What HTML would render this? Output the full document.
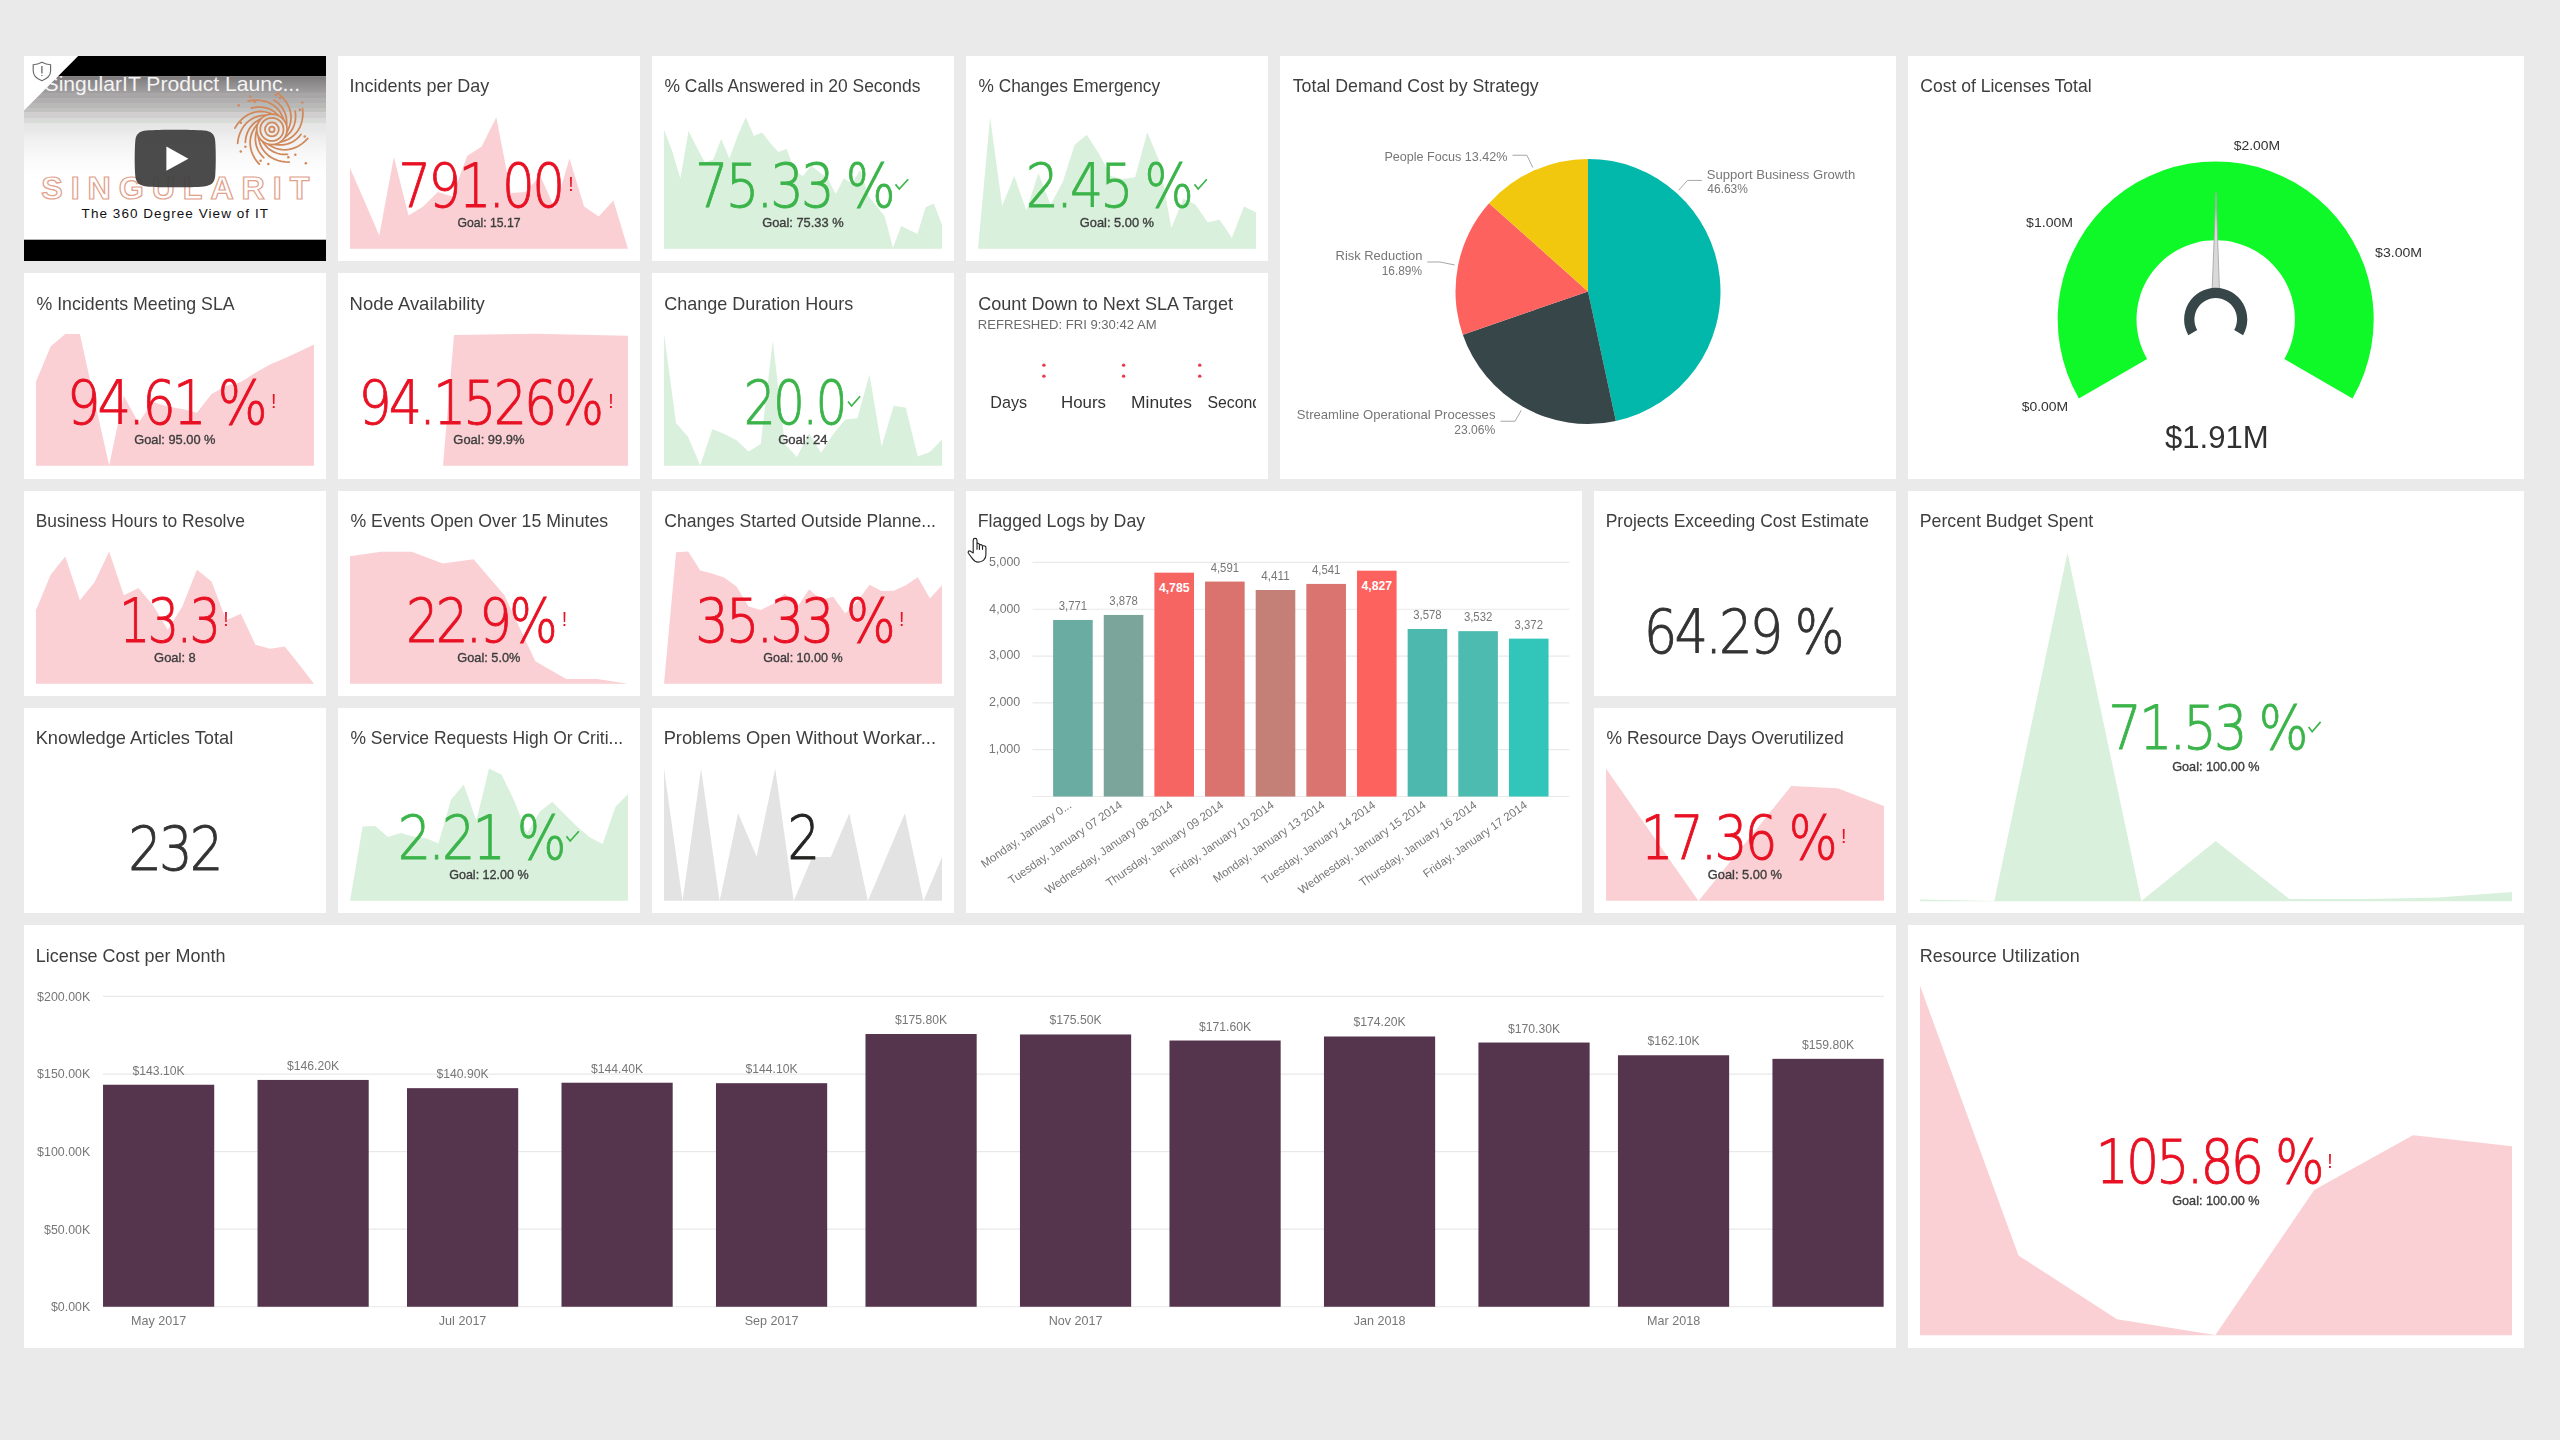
<!DOCTYPE html>
<html lang="en"><head><meta charset="utf-8"><title>IT Dashboard</title>
<style>
html,body{margin:0;padding:0}
body{width:2560px;height:1440px;background:#EAEAEA;position:relative;overflow:hidden;font-family:'Liberation Sans',sans-serif}
.tile{position:absolute;background:#fff;overflow:hidden}
.tile svg{display:block;position:absolute;left:0;top:0;will-change:opacity}
svg text{font-family:'Liberation Sans',sans-serif}
svg text.big{font-family:'DejaVu Sans Light','DejaVu Sans','Liberation Sans',sans-serif;font-weight:200}
</style></head><body>

<div class="tile video" style="left:24px;top:56px;width:302px;height:205.33px">
<svg width="302" height="205.33" viewBox="24 56 302 205.33">
<defs><linearGradient id="vg" gradientUnits="userSpaceOnUse" x1="0" y1="76" x2="0" y2="176">
<stop offset="0" stop-color="#7c787b"/><stop offset="0.08" stop-color="#8f8c8e"/><stop offset="0.165" stop-color="#a19e9f"/>
<stop offset="0.17" stop-color="#a9a6a7"/><stop offset="0.22" stop-color="#a9a6a7"/><stop offset="0.225" stop-color="#b1afaf"/>
<stop offset="0.27" stop-color="#b1afaf"/><stop offset="0.275" stop-color="#b8b8b7"/><stop offset="0.32" stop-color="#b8b8b7"/>
<stop offset="0.325" stop-color="#c1c1c0"/><stop offset="0.36" stop-color="#c1c1c0"/><stop offset="0.365" stop-color="#d0cece"/>
<stop offset="0.415" stop-color="#d0cece"/><stop offset="0.42" stop-color="#d8dbd8"/><stop offset="0.465" stop-color="#d8dbd8"/>
<stop offset="0.47" stop-color="#e5e5e5"/><stop offset="0.54" stop-color="#e8e8e8"/><stop offset="0.62" stop-color="#efefef"/>
<stop offset="0.8" stop-color="#f9f9f9"/><stop offset="1" stop-color="#ffffff"/></linearGradient></defs>
<rect x="24" y="56" width="302" height="205.33" fill="#000"/>
<rect x="24" y="76.1" width="302" height="163.6" fill="#fff"/>
<rect x="24" y="76.1" width="302" height="110" fill="url(#vg)"/>
<text x="44.6" y="90.8" font-size="20.3" fill="#f4f4f4" textLength="255.5" lengthAdjust="spacingAndGlyphs">SingularIT Product Launc...</text>
<polygon points="24,56 78.2,56 24,110.4" fill="#fff"/>
<path d="M41.9,62.2 c-3,1.6 -5.6,2.3 -8.7,2.5 v6 c0,4.6 3.2,8 8.7,10 c5.5,-2 8.7,-5.4 8.7,-10 v-6 c-3.1,-0.2 -5.7,-0.9 -8.7,-2.5 Z" fill="none" stroke="#6a6a6a" stroke-width="1.15"/>
<path d="M41.9,66 v7.4 M41.9,75 v1.1" stroke="#6a6a6a" stroke-width="1.3" fill="none"/>
<g fill="none" stroke="#D0885A" stroke-width="1.75" stroke-linecap="round"><circle cx="271.9" cy="129.4" r="2.7"/><circle cx="271.9" cy="129.4" r="6.9"/><circle cx="271.9" cy="129.4" r="11.6"/><circle cx="271.9" cy="129.4" r="15.2"/><polyline points="271.9,113.8 267.8,112.51 264.42,111.75 261.07,111.46 257.72,111.63 254.37,112.26 251.08,113.33 247.89,114.83 244.85,116.74 241.99,119.05 239.36,121.74 236.99,124.77 234.92,128.11"/><polyline points="278.25,115.15 275.8,113.1 273.85,111.59 271.89,110.33 269.84,109.27 267.72,108.42 265.52,107.77 263.25,107.32 260.93,107.08 258.57,107.05 256.19,107.22 253.79,107.6 251.41,108.18"/><polyline points="283.49,118.96 281.71,115.05 280.01,112.04 277.99,109.35 275.61,106.97 272.91,104.9 269.92,103.17 266.67,101.81 263.21,100.83 259.57,100.25 255.82,100.09 251.98,100.36 248.12,101.06"/><polyline points="286.74,124.58 286.62,121.39 286.44,118.94 286.07,116.63 285.48,114.4 284.69,112.26 283.7,110.19 282.52,108.2 281.15,106.32 279.59,104.54 277.87,102.88 275.99,101.35 273.96,99.97"/><polyline points="287.41,131.03 289.13,127.09 290.23,123.81 290.87,120.51 291.05,117.15 290.78,113.76 290.06,110.38 288.9,107.05 287.32,103.82 285.32,100.73 282.92,97.84 280.16,95.16 277.05,92.76"/><polyline points="285.41,137.2 287.7,134.98 289.41,133.21 290.87,131.38 292.13,129.46 293.2,127.44 294.08,125.32 294.76,123.11 295.24,120.83 295.52,118.48 295.6,116.09 295.48,113.67 295.15,111.24"/><polyline points="281.07,142.02 285.15,140.66 288.32,139.28 291.2,137.55 293.82,135.44 296.16,132.97 298.19,130.17 299.89,127.08 301.23,123.74 302.18,120.19 302.73,116.47 302.87,112.63 302.57,108.71"/><polyline points="275.14,144.66 278.33,144.88 280.79,144.96 283.12,144.82 285.39,144.48 287.61,143.92 289.77,143.15 291.87,142.18 293.89,141.01 295.82,139.65 297.65,138.11 299.36,136.4 300.95,134.52"/><polyline points="268.66,144.66 272.4,146.78 275.54,148.22 278.76,149.2 282.08,149.73 285.48,149.81 288.92,149.45 292.35,148.65 295.73,147.41 299.01,145.74 302.14,143.66 305.08,141.19 307.8,138.35"/><polyline points="262.73,142.02 264.7,144.53 266.29,146.41 267.95,148.06 269.73,149.52 271.63,150.79 273.64,151.88 275.77,152.79 277.99,153.51 280.29,154.04 282.66,154.36 285.08,154.49 287.53,154.42"/><polyline points="258.39,137.2 259.32,141.4 260.35,144.7 261.78,147.74 263.61,150.57 265.82,153.15 268.39,155.46 271.28,157.48 274.46,159.16 277.9,160.48 281.54,161.41 285.34,161.95 289.27,162.07"/><polyline points="256.39,131.03 255.84,134.17 255.5,136.61 255.39,138.95 255.5,141.24 255.82,143.51 256.36,145.74 257.11,147.93 258.06,150.06 259.2,152.12 260.54,154.1 262.07,155.98 263.77,157.76"/><polyline points="257.06,124.58 254.57,128.08 252.8,131.06 251.5,134.15 250.62,137.4 250.18,140.77 250.18,144.23 250.62,147.73 251.5,151.22 252.82,154.65 254.56,157.98 256.71,161.17 259.25,164.17"/><polyline points="260.31,118.96 257.6,120.66 255.57,122.04 253.75,123.52 252.12,125.13 250.66,126.89 249.36,128.78 248.23,130.8 247.29,132.93 246.52,135.17 245.95,137.49 245.57,139.88 245.39,142.33"/><polyline points="265.55,115.15 261.28,115.64 257.89,116.32 254.72,117.42 251.72,118.94 248.92,120.87 246.35,123.18 244.04,125.85 242.04,128.84 240.37,132.12 239.05,135.64 238.12,139.37 237.59,143.26"/></g><circle cx="238.7" cy="105.2" r="1.25" fill="#D0885A"/><circle cx="250.2" cy="96.6" r="1.25" fill="#D0885A"/><circle cx="254.6" cy="101.7" r="1.25" fill="#D0885A"/><circle cx="275.7" cy="94.9" r="1.25" fill="#D0885A"/><circle cx="280.0" cy="98.1" r="1.25" fill="#D0885A"/><circle cx="302.2" cy="102.6" r="1.25" fill="#D0885A"/><circle cx="299.9" cy="109.8" r="1.25" fill="#D0885A"/><circle cx="240.8" cy="122.8" r="1.25" fill="#D0885A"/><circle cx="245.4" cy="146.8" r="1.25" fill="#D0885A"/><circle cx="240.8" cy="151.4" r="1.25" fill="#D0885A"/><circle cx="260.6" cy="160.8" r="1.25" fill="#D0885A"/><circle cx="268.3" cy="164.0" r="1.25" fill="#D0885A"/><circle cx="288.3" cy="157.3" r="1.25" fill="#D0885A"/><circle cx="295.3" cy="154.7" r="1.25" fill="#D0885A"/><circle cx="304.7" cy="136.6" r="1.25" fill="#D0885A"/><circle cx="305.8" cy="163.2" r="1.25" fill="#D0885A"/>
<text x="41.3" y="199.3" font-size="32.2" font-weight="bold" fill="#ffffff" fill-opacity="0.6" stroke="#E2A18B" stroke-width="1.25" textLength="268" lengthAdjust="spacing">SINGULARIT</text>
<text x="81.6" y="218.2" font-size="13.5" fill="#111111" textLength="186.4" lengthAdjust="spacing">The 360 Degree View of IT</text>
<path d="M146.5,130.6 C160,129.6 190,129.6 204,130.6 C211.5,131.2 214.6,134.2 215.2,141 C216,150 216,167 215.2,176 C214.6,182.6 211.5,185.6 204,186.4 C190,187.6 160,187.6 146.5,186.4 C139,185.6 135.9,182.6 135.3,176 C134.5,167 134.5,150 135.3,141 C135.9,134.2 139,131.2 146.5,130.6 Z" fill="#3d3d3d" fill-opacity="0.93"/>
<polygon points="166.4,146.6 188.4,158.7 166.4,170.8" fill="#fff"/>
</svg></div>
<div class="tile" style="left:338px;top:56px;width:302px;height:205.33px">
<svg width="302" height="205.33" viewBox="338 56 302 205.33">
<polygon points="350,248.83 350,167.88 364.63,201.62 379.26,235.38 393.89,157 408.53,215.38 423.16,206.62 437.79,192 452.42,196.62 467.05,156 481.68,146.62 496.32,117.25 510.95,192.88 525.58,192 540.21,175.75 554.84,208.5 569.47,158.5 584.11,206.62 598.74,216.62 613.37,200.38 628,248.75 628,248.83" fill="#FAD0D4"/>
<text x="349.48" y="92" font-size="18" fill="#3e3e3e" textLength="139.85" lengthAdjust="spacingAndGlyphs">Incidents per Day</text>
<text x="398.36" y="206.6" font-size="61" fill="#E81123" textLength="163.9" lengthAdjust="spacingAndGlyphs" letter-spacing="-3.35" class="big" stroke="#E81123" stroke-width="0.9">791.00</text>
<text x="570.9" y="191.1" font-size="19.5" fill="#E81123" text-anchor="middle">!</text>
<text x="457.44" y="227.2" font-size="12.7" fill="#3d3d3d" textLength="63.13" lengthAdjust="spacingAndGlyphs" class="goal" stroke="#3d3d3d" stroke-width="0.35">Goal: 15.17</text>
</svg></div>
<div class="tile" style="left:652px;top:56px;width:302px;height:205.33px">
<svg width="302" height="205.33" viewBox="652 56 302 205.33">
<polygon points="664,248.83 664,129.75 672.18,151 680.35,178.5 688.53,131 696.71,147.25 704.88,162.25 713.06,159.75 721.24,139.12 729.41,158.5 737.59,136 745.76,117.25 753.94,136 762.12,132.62 770.29,142.88 778.47,151.88 786.65,148.88 794.82,171 803,176 811.18,165.38 819.35,172.25 827.53,177.88 835.71,194.12 843.88,178.25 852.06,183.5 860.24,169.75 868.41,196 876.59,206 884.76,216.62 892.94,247.88 901.12,226 909.29,230 917.47,234.12 925.65,207.25 933.82,203.5 942,224.75 942,248.83" fill="#D9F0DC"/>
<text x="664.49" y="92" font-size="18" fill="#3e3e3e" textLength="255.92" lengthAdjust="spacingAndGlyphs">% Calls Answered in 20 Seconds</text>
<text x="695.03" y="206.6" font-size="61" fill="#3BB44A" textLength="197.83" lengthAdjust="spacingAndGlyphs" letter-spacing="-3.35" class="big" stroke="#3BB44A" stroke-width="0.9">75.33 %</text>
<polyline points="895.5,184.4 899.28,189 908.2,179.2" fill="none" stroke="#3BB44A" stroke-width="1.7"/>
<text x="762.23" y="227.2" font-size="12.7" fill="#3d3d3d" textLength="81.31" lengthAdjust="spacingAndGlyphs" class="goal" stroke="#3d3d3d" stroke-width="0.35">Goal: 75.33 %</text>
</svg></div>
<div class="tile" style="left:966px;top:56px;width:302px;height:205.33px">
<svg width="302" height="205.33" viewBox="966 56 302 205.33">
<polygon points="978,248.83 978,248.75 990.09,117.25 1002.17,206 1014.26,176 1026.35,210.38 1038.43,172.88 1050.52,204.75 1062.61,182.25 1074.7,144.75 1086.78,134.75 1098.87,153.5 1110.96,176 1123.04,179.12 1135.13,177.25 1147.22,132.25 1159.3,161 1171.39,227.88 1183.48,198.5 1195.57,204.75 1207.65,222.25 1219.74,219.75 1231.83,237.88 1243.91,206.62 1256,212.25 1256,248.83" fill="#D9F0DC"/>
<text x="978.49" y="92" font-size="18" fill="#3e3e3e" textLength="181.62" lengthAdjust="spacingAndGlyphs">% Changes Emergency</text>
<text x="1025.84" y="206.6" font-size="61" fill="#3BB44A" textLength="165.29" lengthAdjust="spacingAndGlyphs" letter-spacing="-3.35" class="big" stroke="#3BB44A" stroke-width="0.9">2.45 %</text>
<polyline points="1194.5,184.4 1198.17,189 1206.85,179.2" fill="none" stroke="#3BB44A" stroke-width="1.7"/>
<text x="1079.81" y="227.2" font-size="12.7" fill="#3d3d3d" textLength="74.21" lengthAdjust="spacingAndGlyphs" class="goal" stroke="#3d3d3d" stroke-width="0.35">Goal: 5.00 %</text>
</svg></div>
<div class="tile" style="left:1280px;top:56px;width:616px;height:422.67px">
<svg width="616" height="422.67" viewBox="1280 56 616 422.67">
<text x="1292.74" y="92" font-size="18" fill="#3e3e3e" textLength="245.96" lengthAdjust="spacingAndGlyphs">Total Demand Cost by Strategy</text>
<path d="M1588,291.4 L1588,158.9 A132.5,132.5 0 0 1 1615.85,420.94 Z" fill="#01B8AA"/>
<path d="M1588,291.4 L1615.85,420.94 A132.5,132.5 0 0 1 1462.81,334.79 Z" fill="#374649"/>
<path d="M1588,291.4 L1462.81,334.79 A132.5,132.5 0 0 1 1489.05,203.28 Z" fill="#FD625E"/>
<path d="M1588,291.4 L1489.05,203.28 A132.5,132.5 0 0 1 1588,158.9 Z" fill="#F2C80F"/>
<text x="1706.81" y="178.9" font-size="12.2" fill="#777777" textLength="148.43" lengthAdjust="spacingAndGlyphs">Support Business Growth</text>
<text x="1707.36" y="192.6" font-size="12.2" fill="#777777" textLength="40.52" lengthAdjust="spacingAndGlyphs">46.63%</text>
<text x="1384.39" y="160.9" font-size="12.2" fill="#777777" textLength="122.94" lengthAdjust="spacingAndGlyphs">People Focus 13.42%</text>
<text x="1335.57" y="260" font-size="12.2" fill="#777777" textLength="86.88" lengthAdjust="spacingAndGlyphs">Risk Reduction</text>
<text x="1381.71" y="275.1" font-size="12.2" fill="#777777" textLength="40.27" lengthAdjust="spacingAndGlyphs">16.89%</text>
<text x="1296.81" y="418.8" font-size="12.2" fill="#777777" textLength="198.64" lengthAdjust="spacingAndGlyphs">Streamline Operational Processes</text>
<text x="1454.29" y="434" font-size="12.2" fill="#777777" textLength="41.09" lengthAdjust="spacingAndGlyphs">23.06%</text>
<polyline points="1678.75,190.25 1687.5,180.4 1701.9,180.4" fill="none" stroke="#a6a6a6" stroke-width="1"/>
<polyline points="1512.5,155.25 1526.9,155.25 1532.75,167.5" fill="none" stroke="#a6a6a6" stroke-width="1"/>
<polyline points="1427.25,262 1440,262 1454.75,265" fill="none" stroke="#a6a6a6" stroke-width="1"/>
<polyline points="1500.6,421.25 1515,421.25 1521.25,410.25" fill="none" stroke="#a6a6a6" stroke-width="1"/>
</svg></div>
<div class="tile" style="left:1908px;top:56px;width:616px;height:422.67px">
<svg width="616" height="422.67" viewBox="1908 56 616 422.67">
<text x="1920.22" y="92" font-size="18" fill="#3e3e3e" textLength="171.41" lengthAdjust="spacingAndGlyphs">Cost of Licenses Total</text>
<path d="M2078.87,398.4 A158.0,158.0 0 1 1 2352.53,398.4 L2284.29,359 A79.2,79.2 0 1 0 2147.11,359 Z" fill="#0EF927"/>
<polygon points="2212.2,288.5 2216,192.5 2219.4,288.5" fill="#d9d9d9" stroke="#a8a8a8" stroke-width="0.9"/>
<path d="M2188.33,335.2 A31.6,31.6 0 1 1 2243.07,335.2 L2234.15,330.05 A21.3,21.3 0 1 0 2197.25,330.05 Z" fill="#374649"/>
<text x="2021.66" y="411" font-size="13.4" fill="#333333" textLength="46.56" lengthAdjust="spacingAndGlyphs">$0.00M</text>
<text x="2026.06" y="226.9" font-size="13.4" fill="#333333" textLength="46.98" lengthAdjust="spacingAndGlyphs">$1.00M</text>
<text x="2233.76" y="150" font-size="13.4" fill="#333333" textLength="46.36" lengthAdjust="spacingAndGlyphs">$2.00M</text>
<text x="2375.06" y="256.9" font-size="13.4" fill="#333333" textLength="47.08" lengthAdjust="spacingAndGlyphs">$3.00M</text>
<text x="2164.99" y="447.8" font-size="31.6" fill="#303030" textLength="103.77" lengthAdjust="spacingAndGlyphs">$1.91M</text>
</svg></div>
<div class="tile" style="left:24px;top:273.33px;width:302px;height:205.33px">
<svg width="302" height="205.33" viewBox="24 273.33 302 205.33">
<polygon points="36,466.16 36,381.75 50.63,346.75 65.26,334.25 79.89,334.25 94.53,400.5 109.16,465.75 123.79,396.12 138.42,423 153.05,402.38 167.68,406.75 182.32,409.25 196.95,413 211.58,394.25 226.21,386.12 240.84,382.38 255.47,373 270.11,364.88 284.74,358.62 299.37,351.75 314,344.88 314,466.16" fill="#FAD0D4"/>
<text x="36.48" y="309.9" font-size="18" fill="#3e3e3e" textLength="198.17" lengthAdjust="spacingAndGlyphs">% Incidents Meeting SLA</text>
<text x="66.88" y="423.93" font-size="61" fill="#E81123" textLength="197.98" lengthAdjust="spacingAndGlyphs" letter-spacing="-3.35" class="big" stroke="#E81123" stroke-width="0.9">94.61 %</text>
<text x="273.75" y="408.43" font-size="19.5" fill="#E81123" text-anchor="middle">!</text>
<text x="134.23" y="444.53" font-size="12.7" fill="#3d3d3d" textLength="81.31" lengthAdjust="spacingAndGlyphs" class="goal" stroke="#3d3d3d" stroke-width="0.35">Goal: 95.00 %</text>
</svg></div>
<div class="tile" style="left:338px;top:273.33px;width:302px;height:205.33px">
<svg width="302" height="205.33" viewBox="338 273.33 302 205.33">
<polygon points="443,466.16 443,465.75 454,335.25 534,334 628,336.12 628,466.16" fill="#FAD0D4"/>
<text x="349.62" y="309.9" font-size="18" fill="#3e3e3e" textLength="135.22" lengthAdjust="spacingAndGlyphs">Node Availability</text>
<text x="358.43" y="423.93" font-size="61" fill="#E81123" textLength="242.9" lengthAdjust="spacingAndGlyphs" letter-spacing="-3.35" class="big" stroke="#E81123" stroke-width="0.9">94.1526%</text>
<text x="610.9" y="408.43" font-size="19.5" fill="#E81123" text-anchor="middle">!</text>
<text x="453.35" y="444.53" font-size="12.7" fill="#3d3d3d" textLength="71.08" lengthAdjust="spacingAndGlyphs" class="goal" stroke="#3d3d3d" stroke-width="0.35">Goal: 99.9%</text>
</svg></div>
<div class="tile" style="left:652px;top:273.33px;width:302px;height:205.33px">
<svg width="302" height="205.33" viewBox="652 273.33 302 205.33">
<polygon points="664,466.16 664,334.25 676.09,423.62 688.17,437.38 700.26,465.75 712.35,429.25 724.43,434.25 736.52,440.5 748.61,451.75 760.7,444.25 772.78,341.12 784.87,444.25 796.96,457.38 809.04,433.62 821.13,453 833.22,434.25 845.3,419.88 857.39,418.62 869.48,374.88 881.57,446.75 893.65,406.12 905.74,408 917.83,456.75 929.91,452.38 942,439.88 942,466.16" fill="#D9F0DC"/>
<text x="664.2" y="309.9" font-size="18" fill="#3e3e3e" textLength="189.05" lengthAdjust="spacingAndGlyphs">Change Duration Hours</text>
<text x="743.88" y="423.93" font-size="61" fill="#3BB44A" textLength="100.97" lengthAdjust="spacingAndGlyphs" letter-spacing="-3.35" class="big" stroke="#3BB44A" stroke-width="0.9">20.0</text>
<polyline points="848,401.73 851.59,406.33 860.1,396.53" fill="none" stroke="#3BB44A" stroke-width="1.7"/>
<text x="778.15" y="444.53" font-size="12.7" fill="#3d3d3d" textLength="49.45" lengthAdjust="spacingAndGlyphs" class="goal" stroke="#3d3d3d" stroke-width="0.35">Goal: 24</text>
</svg></div>
<div class="tile" style="left:966px;top:273.33px;width:302px;height:205.33px">
<svg width="302" height="205.33" viewBox="966 273.33 302 205.33">
<text x="978.2" y="309.9" font-size="18" fill="#3e3e3e" textLength="254.76" lengthAdjust="spacingAndGlyphs">Count Down to Next SLA Target</text>
<text x="977.85" y="329.3" font-size="12.3" fill="#6b6b6b" textLength="178.71" lengthAdjust="spacingAndGlyphs">REFRESHED: FRI 9:30:42 AM</text>
<circle cx="1043.9" cy="365.5" r="1.7" fill="#E8394B"/><circle cx="1043.9" cy="376.5" r="1.7" fill="#E8394B"/>
<circle cx="1123.6" cy="365.5" r="1.7" fill="#E8394B"/><circle cx="1123.6" cy="376.5" r="1.7" fill="#E8394B"/>
<circle cx="1199.75" cy="365.5" r="1.7" fill="#E8394B"/><circle cx="1199.75" cy="376.5" r="1.7" fill="#E8394B"/>
<clipPath id="cdclip"><rect x="966" y="380" width="290" height="50"/></clipPath>
<g clip-path="url(#cdclip)">
<text x="990.31" y="408.6" font-size="16.8" fill="#333333" textLength="36.83" lengthAdjust="spacingAndGlyphs">Days</text>
<text x="1061.05" y="408.6" font-size="16.8" fill="#333333" textLength="45" lengthAdjust="spacingAndGlyphs">Hours</text>
<text x="1131.01" y="408.6" font-size="16.8" fill="#333333" textLength="61.03" lengthAdjust="spacingAndGlyphs">Minutes</text>
<text x="1207.54" y="408.6" font-size="16.8" fill="#333333" textLength="61.54" lengthAdjust="spacingAndGlyphs">Seconds</text>
</g>
</svg></div>
<div class="tile" style="left:24px;top:490.67px;width:302px;height:205.33px">
<svg width="302" height="205.33" viewBox="24 490.67 302 205.33">
<polygon points="36,683.5 36,610 50.63,574.38 65.26,556.25 79.89,600 94.53,581.88 109.16,551.25 123.79,595 138.42,587.75 153.05,605 167.68,629.38 182.32,606.25 196.95,569.38 211.58,581.25 226.21,620 240.84,613.5 255.47,644.38 270.11,648.5 284.74,646.25 299.37,664.38 314,683.5 314,683.5" fill="#FAD0D4"/>
<text x="35.71" y="526.9" font-size="18" fill="#3e3e3e" textLength="209.19" lengthAdjust="spacingAndGlyphs">Business Hours to Resolve</text>
<text x="118.96" y="641.27" font-size="61" fill="#E81123" textLength="99.19" lengthAdjust="spacingAndGlyphs" letter-spacing="-3.35" class="big" stroke="#E81123" stroke-width="0.9">13.3</text>
<text x="226" y="625.77" font-size="19.5" fill="#E81123" text-anchor="middle">!</text>
<text x="154.1" y="661.87" font-size="12.7" fill="#3d3d3d" textLength="41.65" lengthAdjust="spacingAndGlyphs" class="goal" stroke="#3d3d3d" stroke-width="0.35">Goal: 8</text>
</svg></div>
<div class="tile" style="left:338px;top:490.67px;width:302px;height:205.33px">
<svg width="302" height="205.33" viewBox="338 490.67 302 205.33">
<polygon points="350,683.5 350,555.88 380.89,551.5 411.78,551.5 442.67,563.12 473.56,559 504.44,595 535.33,661 566.22,678.75 597.11,678.75 628,683.5 628,683.5" fill="#FAD0D4"/>
<text x="350.48" y="526.9" font-size="18" fill="#3e3e3e" textLength="257.7" lengthAdjust="spacingAndGlyphs">% Events Open Over 15 Minutes</text>
<text x="406" y="641.27" font-size="61" fill="#E81123" textLength="149.12" lengthAdjust="spacingAndGlyphs" letter-spacing="-3.35" class="big" stroke="#E81123" stroke-width="0.9">22.9%</text>
<text x="564.4" y="625.77" font-size="19.5" fill="#E81123" text-anchor="middle">!</text>
<text x="457.31" y="661.87" font-size="12.7" fill="#3d3d3d" textLength="63.15" lengthAdjust="spacingAndGlyphs" class="goal" stroke="#3d3d3d" stroke-width="0.35">Goal: 5.0%</text>
</svg></div>
<div class="tile" style="left:652px;top:490.67px;width:302px;height:205.33px">
<svg width="302" height="205.33" viewBox="652 490.67 302 205.33">
<polygon points="664,683.5 664,683.5 676.09,551.88 688.17,551.25 700.26,570.25 712.35,573.12 724.43,577.5 736.52,586.25 748.61,606.25 760.7,609.75 772.78,603.75 784.87,593.12 796.96,607.5 809.04,589 821.13,599.38 833.22,596.5 845.3,613.12 857.39,600.62 869.48,584.38 881.57,590.62 893.65,590.38 905.74,585 917.83,576.88 929.91,598.12 942,585 942,683.5" fill="#FAD0D4"/>
<text x="664.22" y="526.9" font-size="18" fill="#3e3e3e" textLength="271.79" lengthAdjust="spacingAndGlyphs">Changes Started Outside Planne...</text>
<text x="695.29" y="641.27" font-size="61" fill="#E81123" textLength="197.56" lengthAdjust="spacingAndGlyphs" letter-spacing="-3.35" class="big" stroke="#E81123" stroke-width="0.9">35.33 %</text>
<text x="901.75" y="625.77" font-size="19.5" fill="#E81123" text-anchor="middle">!</text>
<text x="763.17" y="661.87" font-size="12.7" fill="#3d3d3d" textLength="79.43" lengthAdjust="spacingAndGlyphs" class="goal" stroke="#3d3d3d" stroke-width="0.35">Goal: 10.00 %</text>
</svg></div>
<div class="tile" style="left:966px;top:490.67px;width:616px;height:422.67px">
<svg width="616" height="422.67" viewBox="966 490.67 616 422.67">
<text x="977.68" y="526.9" font-size="18" fill="#3e3e3e" textLength="167.42" lengthAdjust="spacingAndGlyphs">Flagged Logs by Day</text>
<line x1="1032.5" x2="1569.4" y1="796.2" y2="796.2" stroke="#E9E9E9" stroke-width="1.2"/>
<line x1="1032.5" x2="1569.4" y1="749.38" y2="749.38" stroke="#E9E9E9" stroke-width="1.2"/>
<text x="988.65" y="752.78" font-size="12.2" fill="#777777" textLength="31.57" lengthAdjust="spacingAndGlyphs">1,000</text>
<line x1="1032.5" x2="1569.4" y1="702.56" y2="702.56" stroke="#E9E9E9" stroke-width="1.2"/>
<text x="988.98" y="705.96" font-size="12.2" fill="#777777" textLength="31.24" lengthAdjust="spacingAndGlyphs">2,000</text>
<line x1="1032.5" x2="1569.4" y1="655.74" y2="655.74" stroke="#E9E9E9" stroke-width="1.2"/>
<text x="989.1" y="659.14" font-size="12.2" fill="#777777" textLength="31.11" lengthAdjust="spacingAndGlyphs">3,000</text>
<line x1="1032.5" x2="1569.4" y1="608.92" y2="608.92" stroke="#E9E9E9" stroke-width="1.2"/>
<text x="989.35" y="612.32" font-size="12.2" fill="#777777" textLength="30.86" lengthAdjust="spacingAndGlyphs">4,000</text>
<line x1="1032.5" x2="1569.4" y1="562.1" y2="562.1" stroke="#E9E9E9" stroke-width="1.2"/>
<text x="989.1" y="565.5" font-size="12.2" fill="#777777" textLength="31.11" lengthAdjust="spacingAndGlyphs">5,000</text>
<rect x="1053.1" y="619.64" width="39.6" height="176.56" fill="#6AABA2"/>
<text x="1058.7" y="609.74" font-size="12.2" fill="#777777" textLength="28.4" lengthAdjust="spacingAndGlyphs">3,771</text>
<text x="1072.3" y="806.5" font-size="11.6" fill="#777777" text-anchor="end" transform="rotate(-35 1072.3 806.5)">Monday, January 0...</text>
<rect x="1103.75" y="614.63" width="39.6" height="181.57" fill="#7BA59A"/>
<text x="1109.35" y="604.73" font-size="12.2" fill="#777777" textLength="28.4" lengthAdjust="spacingAndGlyphs">3,878</text>
<text x="1122.95" y="806.5" font-size="11.6" fill="#777777" text-anchor="end" transform="rotate(-35 1122.95 806.5)">Tuesday, January 07 2014</text>
<rect x="1154.4" y="572.17" width="39.6" height="224.03" fill="#F76563"/>
<text x="1158.9" y="591.97" font-size="12.2" fill="#ffffff" font-weight="bold" textLength="30.6" lengthAdjust="spacingAndGlyphs">4,785</text>
<text x="1173.6" y="806.5" font-size="11.6" fill="#777777" text-anchor="end" transform="rotate(-35 1173.6 806.5)">Wednesday, January 08 2014</text>
<rect x="1205.05" y="581.25" width="39.6" height="214.95" fill="#DA726E"/>
<text x="1210.65" y="571.35" font-size="12.2" fill="#777777" textLength="28.4" lengthAdjust="spacingAndGlyphs">4,591</text>
<text x="1224.25" y="806.5" font-size="11.6" fill="#777777" text-anchor="end" transform="rotate(-35 1224.25 806.5)">Thursday, January 09 2014</text>
<rect x="1255.7" y="589.68" width="39.6" height="206.52" fill="#C47F77"/>
<text x="1261.3" y="579.78" font-size="12.2" fill="#777777" textLength="28.4" lengthAdjust="spacingAndGlyphs">4,411</text>
<text x="1274.9" y="806.5" font-size="11.6" fill="#777777" text-anchor="end" transform="rotate(-35 1274.9 806.5)">Friday, January 10 2014</text>
<rect x="1306.35" y="583.59" width="39.6" height="212.61" fill="#D97470"/>
<text x="1311.95" y="573.69" font-size="12.2" fill="#777777" textLength="28.4" lengthAdjust="spacingAndGlyphs">4,541</text>
<text x="1325.55" y="806.5" font-size="11.6" fill="#777777" text-anchor="end" transform="rotate(-35 1325.55 806.5)">Monday, January 13 2014</text>
<rect x="1357" y="570.2" width="39.6" height="226" fill="#FD625E"/>
<text x="1361.5" y="590" font-size="12.2" fill="#ffffff" font-weight="bold" textLength="30.6" lengthAdjust="spacingAndGlyphs">4,827</text>
<text x="1376.2" y="806.5" font-size="11.6" fill="#777777" text-anchor="end" transform="rotate(-35 1376.2 806.5)">Tuesday, January 14 2014</text>
<rect x="1407.65" y="628.68" width="39.6" height="167.52" fill="#4DB8AD"/>
<text x="1413.25" y="618.78" font-size="12.2" fill="#777777" textLength="28.4" lengthAdjust="spacingAndGlyphs">3,578</text>
<text x="1426.85" y="806.5" font-size="11.6" fill="#777777" text-anchor="end" transform="rotate(-35 1426.85 806.5)">Wednesday, January 15 2014</text>
<rect x="1458.3" y="630.83" width="39.6" height="165.37" fill="#4EBBB0"/>
<text x="1463.9" y="620.93" font-size="12.2" fill="#777777" textLength="28.4" lengthAdjust="spacingAndGlyphs">3,532</text>
<text x="1477.5" y="806.5" font-size="11.6" fill="#777777" text-anchor="end" transform="rotate(-35 1477.5 806.5)">Thursday, January 16 2014</text>
<rect x="1508.95" y="638.32" width="39.6" height="157.88" fill="#32C6BA"/>
<text x="1514.55" y="628.42" font-size="12.2" fill="#777777" textLength="28.4" lengthAdjust="spacingAndGlyphs">3,372</text>
<text x="1528.15" y="806.5" font-size="11.6" fill="#777777" text-anchor="end" transform="rotate(-35 1528.15 806.5)">Friday, January 17 2014</text>
<path d="M973.2,552.6 V540 a1.9,1.9 0 0 1 3.8,0 V549 M977,543.2 c1.2,-0.5 2.4,0.2 2.4,1.4 V549 M979.4,544.6 c1.4,-0.6 3.1,0 3.1,1.2 V549 M982.6,545.6 c1.6,-0.5 3.3,0.2 3.3,1.6 V554.5 c0,4.4 -3.4,7.3 -7.8,7.3 c-2.6,0 -4.3,-1.6 -5.9,-3.8 L968.4,552.9 c-0.8,-1.3 0.3,-2.9 1.7,-2.2 L973.2,552.6" fill="none" stroke="#262626" stroke-width="1.15" stroke-linejoin="round" stroke-linecap="round"/>
</svg></div>
<div class="tile" style="left:1594px;top:490.67px;width:302px;height:205.33px">
<svg width="302" height="205.33" viewBox="1594 490.67 302 205.33">
<text x="1605.7" y="526.9" font-size="18" fill="#3e3e3e" textLength="263.23" lengthAdjust="spacingAndGlyphs">Projects Exceeding Cost Estimate</text>
<text x="1643.73" y="653" font-size="61" fill="#333333" textLength="197.98" lengthAdjust="spacingAndGlyphs" letter-spacing="-3.35" class="big" stroke="#333333" stroke-width="0.9">64.29 %</text>
</svg></div>
<div class="tile" style="left:1908px;top:490.67px;width:616px;height:422.67px">
<svg width="616" height="422.67" viewBox="1908 490.67 616 422.67">
<polygon points="1920,900.84 1920,899.2 1994.3,900.7 2067.5,552.4 2141.3,900.7 2215.6,840.7 2289.4,898.8 2363.7,898.8 2437.9,897.3 2512,891.7 2512,900.84" fill="#D9F0DC"/>
<text x="1919.68" y="526.9" font-size="18" fill="#3e3e3e" textLength="173.6" lengthAdjust="spacingAndGlyphs">Percent Budget Spent</text>
<text x="2108.29" y="748.97" font-size="61" fill="#3BB44A" textLength="197.22" lengthAdjust="spacingAndGlyphs" letter-spacing="-3.35" class="big" stroke="#3BB44A" stroke-width="0.9">71.53 %</text>
<polyline points="2308.6,726.77 2312.16,731.37 2320.6,721.57" fill="none" stroke="#3BB44A" stroke-width="1.7"/>
<text x="2172.24" y="770.87" font-size="12.7" fill="#3d3d3d" textLength="87.31" lengthAdjust="spacingAndGlyphs" class="goal" stroke="#3d3d3d" stroke-width="0.35">Goal: 100.00 %</text>
</svg></div>
<div class="tile" style="left:24px;top:708px;width:302px;height:205.33px">
<svg width="302" height="205.33" viewBox="24 708 302 205.33">
<text x="35.64" y="743.9" font-size="18" fill="#3e3e3e" textLength="197.68" lengthAdjust="spacingAndGlyphs">Knowledge Articles Total</text>
<text x="128.2" y="870" font-size="61" fill="#333333" textLength="92.22" lengthAdjust="spacingAndGlyphs" letter-spacing="-3.35" class="big" stroke="#333333" stroke-width="0.9">232</text>
</svg></div>
<div class="tile" style="left:338px;top:708px;width:302px;height:205.33px">
<svg width="302" height="205.33" viewBox="338 708 302 205.33">
<polygon points="350,900.83 350,901 362.64,826.38 375.27,826.12 387.91,837 400.55,833 413.18,836.38 425.82,838.25 438.45,843.25 451.09,799.5 463.73,784.5 476.36,820.75 489,768.5 501.64,774.75 514.27,800.75 526.91,833.25 539.55,812 552.18,801.75 564.82,814.5 577.45,827 590.09,837.62 602.73,843.88 615.36,807 628,793.88 628,900.83" fill="#D9F0DC"/>
<text x="350.49" y="743.9" font-size="18" fill="#3e3e3e" textLength="272.6" lengthAdjust="spacingAndGlyphs">% Service Requests High Or Criti...</text>
<text x="397.83" y="858.6" font-size="61" fill="#3BB44A" textLength="165.96" lengthAdjust="spacingAndGlyphs" letter-spacing="-3.35" class="big" stroke="#3BB44A" stroke-width="0.9">2.21 %</text>
<polyline points="566.5,836.4 570.17,841 578.85,831.2" fill="none" stroke="#3BB44A" stroke-width="1.7"/>
<text x="449.17" y="879.2" font-size="12.7" fill="#3d3d3d" textLength="79.43" lengthAdjust="spacingAndGlyphs" class="goal" stroke="#3d3d3d" stroke-width="0.35">Goal: 12.00 %</text>
</svg></div>
<div class="tile" style="left:652px;top:708px;width:302px;height:205.33px">
<svg width="302" height="205.33" viewBox="652 708 302 205.33">
<polygon points="664,900.83 664,768.25 682.53,901 701.07,768.5 719.6,901 738.13,813.25 756.67,856.38 775.2,768.5 793.73,901 812.27,857 830.8,857 849.33,813.25 867.87,901 886.4,857.12 904.93,813.25 923.47,901 942,857 942,900.83" fill="#E3E3E3"/>
<text x="663.64" y="743.9" font-size="18" fill="#3e3e3e" textLength="272.39" lengthAdjust="spacingAndGlyphs">Problems Open Without Workar...</text>
<text x="787.52" y="858.6" font-size="61" fill="#252423" textLength="29.75" lengthAdjust="spacingAndGlyphs" letter-spacing="-3.35" class="big" stroke="#252423" stroke-width="0.9">2</text>
</svg></div>
<div class="tile" style="left:1594px;top:708px;width:302px;height:205.33px">
<svg width="302" height="205.33" viewBox="1594 708 302 205.33">
<polygon points="1606,900.83 1606,768.5 1698.5,901 1791.25,786 1837.5,788.25 1884,806 1884,900.83" fill="#FAD0D4"/>
<text x="1606.49" y="743.9" font-size="18" fill="#3e3e3e" textLength="237.26" lengthAdjust="spacingAndGlyphs">% Resource Days Overutilized</text>
<text x="1640.54" y="858.6" font-size="61" fill="#E81123" textLength="194.3" lengthAdjust="spacingAndGlyphs" letter-spacing="-3.35" class="big" stroke="#E81123" stroke-width="0.9">17.36 %</text>
<text x="1843.75" y="843.1" font-size="19.5" fill="#E81123" text-anchor="middle">!</text>
<text x="1707.81" y="879.2" font-size="12.7" fill="#3d3d3d" textLength="74.21" lengthAdjust="spacingAndGlyphs" class="goal" stroke="#3d3d3d" stroke-width="0.35">Goal: 5.00 %</text>
</svg></div>
<div class="tile" style="left:24px;top:925.33px;width:1872px;height:422.67px">
<svg width="1872" height="422.67" viewBox="24 925.33 1872 422.67">
<text x="35.66" y="962.2" font-size="18" fill="#3e3e3e" textLength="189.73" lengthAdjust="spacingAndGlyphs">License Cost per Month</text>
<line x1="102.8" x2="1883.7" y1="1307.1" y2="1307.1" stroke="#E9E9E9" stroke-width="1.2"/>
<text x="50.86" y="1311.5" font-size="12.6" fill="#777777" textLength="39.34" lengthAdjust="spacingAndGlyphs">$0.00K</text>
<line x1="102.8" x2="1883.7" y1="1229.52" y2="1229.52" stroke="#E9E9E9" stroke-width="1.2"/>
<text x="43.96" y="1233.92" font-size="12.6" fill="#777777" textLength="46.24" lengthAdjust="spacingAndGlyphs">$50.00K</text>
<line x1="102.8" x2="1883.7" y1="1151.95" y2="1151.95" stroke="#E9E9E9" stroke-width="1.2"/>
<text x="37.06" y="1156.35" font-size="12.6" fill="#777777" textLength="53.14" lengthAdjust="spacingAndGlyphs">$100.00K</text>
<line x1="102.8" x2="1883.7" y1="1074.38" y2="1074.38" stroke="#E9E9E9" stroke-width="1.2"/>
<text x="37.06" y="1078.78" font-size="12.6" fill="#777777" textLength="53.14" lengthAdjust="spacingAndGlyphs">$150.00K</text>
<line x1="102.8" x2="1883.7" y1="996.8" y2="996.8" stroke="#E9E9E9" stroke-width="1.2"/>
<text x="37.06" y="1001.2" font-size="12.6" fill="#777777" textLength="53.14" lengthAdjust="spacingAndGlyphs">$200.00K</text>
<rect x="103" y="1085.08" width="111.2" height="222.02" fill="#55344D"/>
<text x="132.5" y="1075.08" font-size="12.2" fill="#777777" textLength="52.2" lengthAdjust="spacingAndGlyphs">$143.10K</text>
<text x="158.6" y="1325.3" font-size="12.6" fill="#777777" text-anchor="middle">May 2017</text>
<rect x="257.49" y="1080.27" width="111.2" height="226.83" fill="#55344D"/>
<text x="286.99" y="1070.27" font-size="12.2" fill="#777777" textLength="52.2" lengthAdjust="spacingAndGlyphs">$146.20K</text>
<rect x="406.99" y="1088.49" width="111.2" height="218.61" fill="#55344D"/>
<text x="436.49" y="1078.49" font-size="12.2" fill="#777777" textLength="52.2" lengthAdjust="spacingAndGlyphs">$140.90K</text>
<text x="462.59" y="1325.3" font-size="12.6" fill="#777777" text-anchor="middle">Jul 2017</text>
<rect x="561.48" y="1083.06" width="111.2" height="224.04" fill="#55344D"/>
<text x="590.98" y="1073.06" font-size="12.2" fill="#777777" textLength="52.2" lengthAdjust="spacingAndGlyphs">$144.40K</text>
<rect x="715.97" y="1083.53" width="111.2" height="223.57" fill="#55344D"/>
<text x="745.47" y="1073.53" font-size="12.2" fill="#777777" textLength="52.2" lengthAdjust="spacingAndGlyphs">$144.10K</text>
<text x="771.57" y="1325.3" font-size="12.6" fill="#777777" text-anchor="middle">Sep 2017</text>
<rect x="865.48" y="1034.35" width="111.2" height="272.75" fill="#55344D"/>
<text x="894.98" y="1024.35" font-size="12.2" fill="#777777" textLength="52.2" lengthAdjust="spacingAndGlyphs">$175.80K</text>
<rect x="1019.96" y="1034.81" width="111.2" height="272.29" fill="#55344D"/>
<text x="1049.46" y="1024.81" font-size="12.2" fill="#777777" textLength="52.2" lengthAdjust="spacingAndGlyphs">$175.50K</text>
<text x="1075.56" y="1325.3" font-size="12.6" fill="#777777" text-anchor="middle">Nov 2017</text>
<rect x="1169.47" y="1040.86" width="111.2" height="266.24" fill="#55344D"/>
<text x="1198.97" y="1030.86" font-size="12.2" fill="#777777" textLength="52.2" lengthAdjust="spacingAndGlyphs">$171.60K</text>
<rect x="1323.96" y="1036.83" width="111.2" height="270.27" fill="#55344D"/>
<text x="1353.46" y="1026.83" font-size="12.2" fill="#777777" textLength="52.2" lengthAdjust="spacingAndGlyphs">$174.20K</text>
<text x="1379.56" y="1325.3" font-size="12.6" fill="#777777" text-anchor="middle">Jan 2018</text>
<rect x="1478.45" y="1042.88" width="111.2" height="264.22" fill="#55344D"/>
<text x="1507.95" y="1032.88" font-size="12.2" fill="#777777" textLength="52.2" lengthAdjust="spacingAndGlyphs">$170.30K</text>
<rect x="1617.98" y="1055.6" width="111.2" height="251.5" fill="#55344D"/>
<text x="1647.48" y="1045.6" font-size="12.2" fill="#777777" textLength="52.2" lengthAdjust="spacingAndGlyphs">$162.10K</text>
<text x="1673.58" y="1325.3" font-size="12.6" fill="#777777" text-anchor="middle">Mar 2018</text>
<rect x="1772.47" y="1059.17" width="111.2" height="247.93" fill="#55344D"/>
<text x="1801.97" y="1049.17" font-size="12.2" fill="#777777" textLength="52.2" lengthAdjust="spacingAndGlyphs">$159.80K</text>
</svg></div>
<div class="tile" style="left:1908px;top:925.33px;width:616px;height:422.67px">
<svg width="616" height="422.67" viewBox="1908 925.33 616 422.67">
<polygon points="1920,1335.5 1920,986.1 2018.5,1255.9 2117,1319.7 2215.4,1335.4 2314.2,1190.3 2413,1135.6 2512,1146.5 2512,1335.5" fill="#FAD0D4"/>
<text x="1919.66" y="962.2" font-size="18" fill="#3e3e3e" textLength="160.16" lengthAdjust="spacingAndGlyphs">Resource Utilization</text>
<text x="2095.5" y="1183.63" font-size="61" fill="#E81123" textLength="226.27" lengthAdjust="spacingAndGlyphs" letter-spacing="-3.35" class="big" stroke="#E81123" stroke-width="0.9">105.86 %</text>
<text x="2330" y="1168.13" font-size="19.5" fill="#E81123" text-anchor="middle">!</text>
<text x="2172.24" y="1205.53" font-size="12.7" fill="#3d3d3d" textLength="87.31" lengthAdjust="spacingAndGlyphs" class="goal" stroke="#3d3d3d" stroke-width="0.35">Goal: 100.00 %</text>
</svg></div>
</body></html>
